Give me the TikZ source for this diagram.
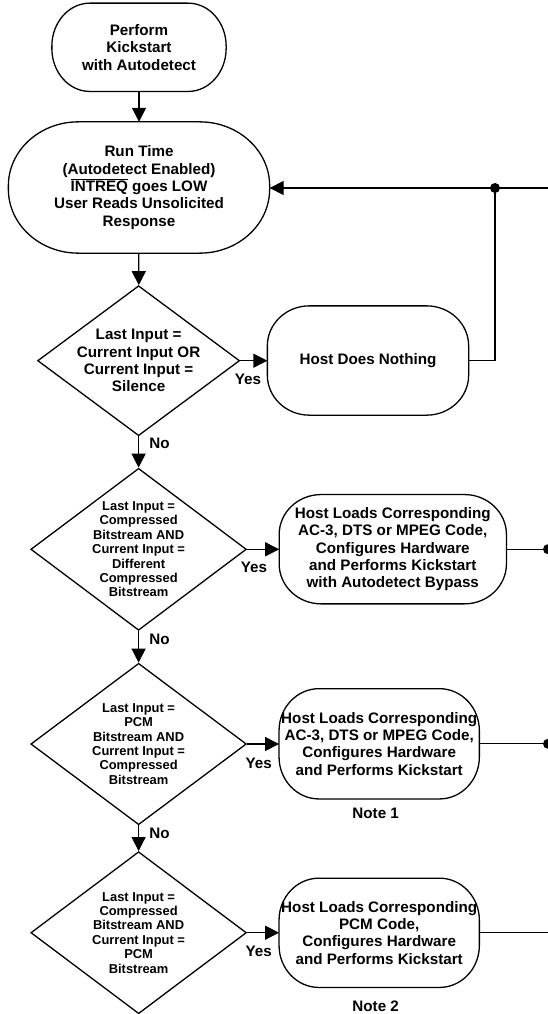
\documentclass[tikz,border=0pt]{standalone}
\usepackage{fontspec}
\setmainfont{Liberation Sans}
\usetikzlibrary{shapes.geometric,arrows.meta}
\newcommand\ovbox[3]{%
  \draw ([xshift=#2]#1.north west) -- ([xshift=-#2]#1.north east)
    arc[start angle=90,end angle=0,x radius=#2,y radius=#3]
    -- ([yshift=#3]#1.south east)
    arc[start angle=0,end angle=-90,x radius=#2,y radius=#3]
    -- ([xshift=#2]#1.south west)
    arc[start angle=270,end angle=180,x radius=#2,y radius=#3]
    -- ([yshift=-#3]#1.north west)
    arc[start angle=180,end angle=90,x radius=#2,y radius=#3] -- cycle;}
\begin{document}
\begin{tikzpicture}[x=1pt,y=-1pt,line width=1.3pt,
  every node/.style={font=\bfseries\fontsize{15.2}{17.3}\selectfont,align=center,inner sep=0pt},
  term/.style={rectangle,inner sep=0pt},
  dia/.style={draw,diamond,inner sep=0pt},
  small/.style={font=\bfseries\fontsize{12.9}{14.4}\selectfont},
  arr/.style={-{Triangle[length=14pt,width=14pt]}},
  jdot/.style={circle,fill,minimum size=10pt,inner sep=0pt}]
\useasboundingbox (0,0) rectangle (548,1014);
% boxes
\node[term,minimum width=173pt,minimum height=87pt] (s) at (139,47.3) {Perform\\Kickstart\\with Autodetect};
\ovbox{s}{38pt}{43pt}
\node[term,minimum width=260pt,minimum height=130pt] (rt) at (139,187.5) {Run Time\\(Autodetect Enabled)\\$\overline{\mbox{INTREQ}}$ goes LOW\\User Reads Unsolicited\\Response};
\ovbox{rt}{70pt}{64pt}
\node[dia,minimum width=202pt,minimum height=150pt] (d1) at (138.6,360.7) {};
\node (d1t) at (d1) {Last Input =\\Current Input OR\\Current Input =\\Silence};
\node[term,minimum width=200pt,minimum height=108pt] (h1) at (368,360.5) {Host Does Nothing};
\ovbox{h1}{42pt}{40pt}
\node[dia,minimum width=215.6pt,minimum height=162pt] (d2) at (138.6,549.3) {};
\node[small] (d2t) at (d2) {Last Input =\\Compressed\\Bitstream AND\\Current Input =\\Different\\Compressed\\Bitstream};
\node[term,minimum width=226pt,minimum height=108pt] (b2) at (392.8,549.2) {Host Loads Corresponding\\AC-3, DTS or MPEG Code,\\Configures Hardware\\and Performs Kickstart\\with Autodetect Bypass};
\ovbox{b2}{42pt}{40pt}
\node[dia,minimum width=215.6pt,minimum height=161.4pt] (d3) at (138.6,744) {};
\node[small] (d3t) at (d3) {Last Input =\\PCM\\Bitstream AND\\Current Input =\\Compressed\\Bitstream};
\node[term,minimum width=199pt,minimum height=109pt] (b3) at (379.2,743.8) {Host Loads Corresponding\\AC-3, DTS or MPEG Code,\\Configures Hardware\\and Performs Kickstart};
\ovbox{b3}{40pt}{42pt}
\node[dia,minimum width=215.6pt,minimum height=162pt] (d4) at (138.6,932.7) {};
\node[small] (d4t) at (d4) {Last Input =\\Compressed\\Bitstream AND\\Current Input =\\PCM\\Bitstream};
\node[term,minimum width=199pt,minimum height=108pt] (b4) at (379.2,932.8) {Host Loads Corresponding\\PCM Code,\\Configures Hardware\\and Performs Kickstart};
\ovbox{b4}{40pt}{42pt}
% labels
\node (y1) at (248,379) {Yes};
\node (y2) at (254,567.7) {Yes};
\node (y3) at (258.6,763.3) {Yes};
\node (y4) at (258.6,951.7) {Yes};
\node (n1) at (159.5,443.5) {No};
\node (n2) at (159.5,639.3) {No};
\node (n3) at (159.5,833.3) {No};
\node (note1) at (375.7,813.3) {Note 1};
\node (note2) at (375.7,1006.7) {Note 2};
% connectors
\draw[arr] (s) -- (rt);
\draw[arr] (rt) -- (d1);
\draw[arr] (d1) -- (d2);
\draw[arr] (d2) -- (d3);
\draw[arr] (d3) -- (d4);
\draw[arr] (d1.east) -- (d1.east -| h1.west);
\draw[arr] (d2.east) -- (d2.east -| b2.west);
\draw[arr] (d3.east) -- (d3.east -| b3.west);
\draw[arr] (d4.east) -- (d4.east -| b4.west);
\coordinate (j1) at (495,188);
\coordinate (e0) at (548,188);
\draw (h1.east) -| (j1);
\draw[arr] (e0) -- (e0 -| rt.east);
\node[jdot] (j1d) at (j1) {};
\coordinate (e2) at (548,549.2);
\coordinate (e3) at (548,743.8);
\coordinate (e4) at (548,932.8);
\draw (b2.east) -- (e2);
\draw (b3.east) -- (e3);
\draw (b4.east) -- (e4);
\node[jdot] (e2d) at (e2) {};
\node[jdot] (e3d) at (e3) {};
\end{tikzpicture}
\end{document}
